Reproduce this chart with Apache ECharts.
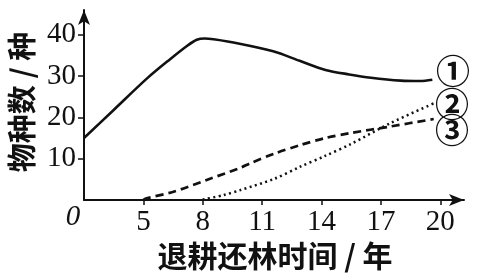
<!DOCTYPE html>
<html><head><meta charset="utf-8">
<script src="https://cdn.jsdelivr.net/npm/echarts@6/dist/echarts.min.js"></script>
<style>html,body{margin:0;padding:0;background:#fff}#c{width:480px;height:275px}</style>
</head><body><div id="c"></div>
<script>
// x axis has a break: axis position 2 stands for year 0, then 5,8,...,20 are linear
const xTickValues = [2, 5, 8, 11, 14, 17, 20];
const xTickLabels = ['0', '5', '8', '11', '14', '17', '20'];
const yTickValues = [10, 20, 30, 40];
const seriesNames = ['①', '②', '③'];

const s1X = [2, 3.5, 5.2, 6.35, 7.2, 7.7, 8.1, 8.55, 9.8, 11.56, 12.9, 14.2, 15.4, 16.5, 18.0, 19.0, 19.6];
const s1Y = [15, 21.8, 29.5, 34.1, 37.3, 38.8, 39.1, 38.9, 37.9, 36.0, 33.7, 31.5, 30.4, 29.6, 28.9, 28.8, 29.1];

const s2X = [8.0, 9.05, 9.9, 11.6, 12.9, 14.15, 15.5, 17.48, 19.67];
const s2Y = [0.1, 1.2, 2.4, 5.1, 8.0, 10.6, 13.6, 18.6, 23.4];

const s3X = [5.0, 5.17, 6.52, 8.2, 9.9, 10.4, 11.66, 12.93, 14.19, 15.45, 17.48, 19.67];
const s3Y = [0, 0.4, 2.0, 4.85, 7.8, 8.9, 11.3, 13.3, 15.0, 16.2, 17.8, 19.6];

const zip = (xs, ys) => xs.map((x, i) => [x, ys[i]]);
const ink = '#111';
const serif = '"Liberation Serif", "DejaVu Serif", serif';
const cjk = '"Noto Sans CJK SC", sans-serif';

const chart = echarts.init(document.getElementById('c'), null, {renderer: 'canvas'});
chart.setOption({
  animation: false,
  backgroundColor: '#fff',
  grid: {left: 84, right: 16, top: 10, bottom: 75, containLabel: false},
  xAxis: {
    type: 'value', min: 2, max: 21.2,
    splitLine: {show: false},
    axisLine: {lineStyle: {color: ink, width: 2}, symbol: ['none', 'arrow'], symbolSize: [9, 15]},
    axisTick: {show: true, length: 5, lineStyle: {color: ink, width: 1.5}, customValues: xTickValues.slice(1)},
    axisLabel: {
      customValues: xTickValues.slice(1), margin: 8, color: ink,
      fontFamily: serif, fontSize: 29,
      formatter: v => xTickLabels[xTickValues.indexOf(v)]
    }
  },
  yAxis: {
    type: 'value', min: 0, max: 46,
    splitLine: {show: false},
    axisLine: {show: true, lineStyle: {color: ink, width: 2}, symbol: ['none', 'arrow'], symbolSize: [9, 15]},
    axisTick: {show: true, length: 6, lineStyle: {color: ink, width: 1.5}, customValues: yTickValues},
    axisLabel: {customValues: yTickValues, margin: 8, color: ink, fontFamily: serif, fontSize: 29}
  },
  series: [
    {type: 'line', name: seriesNames[0], data: zip(s1X, s1Y), smooth: 0.3, symbol: 'none',
     lineStyle: {color: ink, width: 2.6}},
    {type: 'line', name: seriesNames[1], data: zip(s2X, s2Y), smooth: 0.3, symbol: 'none',
     lineStyle: {color: ink, width: 2.5, type: [2, 3.4]}},
    {type: 'line', name: seriesNames[2], data: zip(s3X, s3Y), smooth: 0.3, symbol: 'none',
     lineStyle: {color: ink, width: 2.7, type: [8, 5]}}
  ],
  graphic: [
    {type: 'text', x: 73, y: 217, style: {text: xTickLabels[0], fontFamily: serif, fontStyle: 'italic', fontSize: 29, fill: ink, align: 'center', verticalAlign: 'middle'}},
    {type: 'text', x: 22, y: 102, rotation: Math.PI / 2, style: {text: '物种数 / 种', fontFamily: cjk, fontWeight: 'bold', fontSize: 29, fill: ink, align: 'center', verticalAlign: 'middle'}},
    {type: 'text', x: 275, y: 256, style: {text: '退耕还林时间 / 年', fontFamily: cjk, fontWeight: 'bold', fontSize: 30, fill: ink, align: 'center', verticalAlign: 'middle'}},
    {type: 'text', x: 453, y: 71, style: {text: seriesNames[0], fontFamily: cjk, fontWeight: 'bold', fontSize: 34, fill: ink, align: 'center', verticalAlign: 'middle'}},
    {type: 'text', x: 452, y: 104, style: {text: seriesNames[1], fontFamily: cjk, fontWeight: 'bold', fontSize: 34, fill: ink, align: 'center', verticalAlign: 'middle'}},
    {type: 'text', x: 452, y: 130, style: {text: seriesNames[2], fontFamily: cjk, fontWeight: 'bold', fontSize: 34, fill: ink, align: 'center', verticalAlign: 'middle'}}
  ]
});
</script></body></html>
